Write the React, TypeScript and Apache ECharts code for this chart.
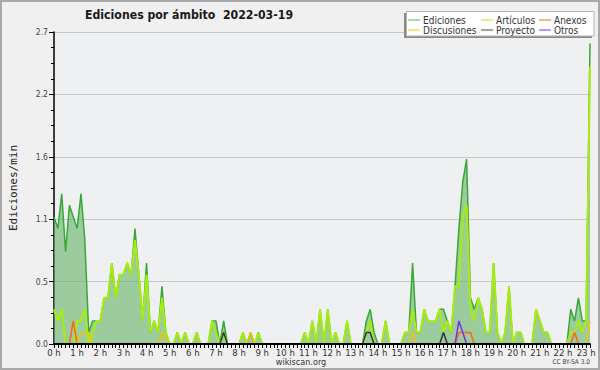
import { useEffect, useRef } from 'react';
import * as echarts from 'echarts';

// 10-minute slots from 0:00 to 23:10 (index = slot number)
const HOUR_LABELS = [
  '0 h', '1 h', '2 h', '3 h', '4 h', '5 h', '6 h', '7 h', '8 h', '9 h', '10 h', '11 h',
  '12 h', '13 h', '14 h', '15 h', '16 h', '17 h', '18 h', '19 h', '20 h', '21 h', '22 h', '23 h',
];
const Y_TICKS = [0, 0.54, 1.08, 1.62, 2.16, 2.7];

const EDICIONES = [
  1.1, 1.0, 1.3, 0.8, 1.2, 1.1, 1.0, 1.3, 0.9, 0.1,
  0.2, 0.2, 0.2, 0.4, 0.4, 0.7, 0.4, 0.6, 0.6, 0.7,
  0.6, 1.0, 0.6, 0.2, 0.7, 0.1, 0.2, 0.1, 0.5, 0.1,
  0, 0, 0.1, 0, 0.1, 0, 0, 0.1, 0, 0,
  0, 0.2, 0.2, 0, 0.2, 0, 0, 0, 0, 0.1,
  0, 0.1, 0, 0.1, 0, 0, 0, 0, 0, 0,
  0, 0, 0, 0, 0, 0.1, 0, 0.2, 0, 0.3,
  0, 0.3, 0, 0.1, 0, 0, 0.2, 0, 0, 0,
  0, 0.2, 0.3, 0.1, 0, 0, 0.2, 0, 0, 0,
  0, 0.1, 0.1, 0.7, 0.1, 0.1, 0.3, 0.2, 0.2, 0.2,
  0.3, 0.3, 0.2, 0.1, 0.5, 1.0, 1.4, 1.6, 0.4, 0.3,
  0.4, 0.3, 0.1, 0.1, 0.7, 0.1, 0, 0.1, 0.5, 0,
  0.1, 0.1, 0, 0, 0, 0.3, 0.2, 0.1, 0.1, 0,
  0, 0, 0, 0, 0.3, 0.2, 0.4, 0.2, 0.2, 2.6,
];
const ARTICULOS = [
  0.3, 0.2, 0.3, 0, 0, 0, 0.2, 0.2, 0.3, 0,
  0.1, 0.2, 0.2, 0.4, 0.4, 0.7, 0.4, 0.6, 0.6, 0.7,
  0.6, 0.9, 0.6, 0.2, 0.6, 0.1, 0.2, 0.1, 0.4, 0.1,
  0, 0, 0.1, 0, 0.1, 0, 0, 0.1, 0, 0,
  0, 0.2, 0.1, 0, 0.1, 0, 0, 0, 0, 0.1,
  0, 0, 0, 0.1, 0, 0, 0, 0, 0, 0,
  0, 0, 0, 0, 0, 0.1, 0, 0.2, 0, 0.3,
  0, 0.3, 0, 0.1, 0, 0, 0.2, 0, 0, 0,
  0, 0.1, 0.2, 0, 0, 0, 0.2, 0, 0, 0,
  0, 0.1, 0.1, 0.3, 0.1, 0.1, 0.3, 0.2, 0.2, 0.2,
  0.3, 0.1, 0.2, 0.1, 0.5, 0.5, 1.1, 1.2, 0.3, 0.2,
  0.4, 0.3, 0.1, 0.1, 0.7, 0.1, 0, 0.1, 0.5, 0,
  0.1, 0.1, 0, 0, 0, 0.3, 0.2, 0.1, 0.1, 0,
  0, 0, 0, 0, 0.1, 0.1, 0.2, 0.1, 0.2, 2.4,
];
const ANEXOS = [
  0, 0, 0, 0, 0, 0.2, 0, 0, 0, 0,
  0, 0, 0, 0, 0, 0, 0, 0, 0, 0,
  0, 0, 0, 0, 0, 0, 0, 0, 0, 0,
  0, 0, 0, 0, 0, 0, 0, 0, 0, 0,
  0, 0, 0, 0, 0, 0, 0, 0, 0, 0,
  0, 0, 0, 0, 0, 0, 0, 0, 0, 0,
  0, 0, 0, 0, 0, 0, 0, 0, 0, 0,
  0, 0, 0, 0, 0, 0, 0, 0, 0, 0,
  0, 0, 0, 0, 0, 0, 0, 0, 0, 0,
  0, 0, 0, 0, 0, 0, 0, 0, 0, 0,
  0, 0, 0, 0, 0, 0.1, 0.1, 0.1, 0.1, 0,
  0, 0, 0, 0, 0, 0, 0, 0, 0, 0,
  0, 0, 0, 0, 0, 0, 0, 0, 0, 0,
  0, 0, 0, 0, 0, 0.1, 0, 0, 0, 0,
];
const DISCUSIONES = [
  0, 0, 0, 0, 0, 0, 0, 0.1, 0.1, 0.1,
  0, 0, 0, 0, 0, 0, 0, 0, 0, 0,
  0, 0, 0, 0, 0, 0, 0, 0, 0.1, 0,
  0, 0, 0, 0, 0, 0, 0, 0, 0, 0,
  0, 0, 0, 0, 0, 0, 0, 0, 0, 0,
  0, 0.1, 0, 0, 0, 0, 0, 0, 0, 0,
  0, 0, 0, 0, 0, 0, 0, 0, 0, 0,
  0, 0, 0, 0, 0, 0, 0, 0, 0, 0,
  0, 0, 0, 0, 0, 0, 0, 0, 0, 0,
  0, 0, 0, 0.1, 0, 0, 0, 0, 0, 0,
  0, 0, 0, 0, 0, 0, 0, 0, 0, 0,
  0, 0, 0, 0, 0, 0, 0, 0, 0, 0,
  0, 0, 0, 0, 0, 0, 0, 0, 0, 0,
  0, 0, 0, 0, 0, 0, 0, 0, 0, 0.2,
];
const PROYECTO = [
  0, 0, 0, 0, 0, 0, 0, 0, 0, 0,
  0, 0, 0, 0, 0, 0, 0, 0, 0, 0,
  0, 0, 0, 0, 0, 0, 0, 0, 0, 0,
  0, 0, 0, 0, 0, 0, 0, 0, 0, 0,
  0, 0, 0, 0, 0.1, 0, 0, 0, 0, 0,
  0, 0, 0, 0, 0, 0, 0, 0, 0, 0,
  0, 0, 0, 0, 0, 0, 0, 0, 0, 0,
  0, 0, 0, 0, 0, 0, 0, 0, 0, 0,
  0, 0.1, 0.1, 0, 0, 0, 0, 0, 0, 0,
  0, 0, 0, 0, 0, 0, 0, 0, 0, 0,
  0, 0.1, 0, 0, 0, 0, 0, 0, 0, 0,
  0, 0, 0, 0, 0, 0, 0, 0, 0, 0,
  0, 0, 0, 0, 0, 0, 0, 0, 0, 0,
  0, 0, 0, 0, 0, 0, 0, 0, 0, 0,
];
const OTROS = [
  0, 0, 0, 0, 0, 0, 0, 0, 0, 0,
  0, 0, 0, 0, 0, 0, 0, 0, 0, 0,
  0, 0, 0, 0, 0, 0, 0, 0, 0, 0,
  0, 0, 0, 0, 0, 0, 0, 0, 0, 0,
  0, 0, 0, 0, 0, 0, 0, 0, 0, 0,
  0, 0, 0, 0, 0, 0, 0, 0, 0, 0,
  0, 0, 0, 0, 0, 0, 0, 0, 0, 0,
  0, 0, 0, 0, 0, 0, 0, 0, 0, 0,
  0, 0, 0, 0, 0, 0, 0, 0, 0, 0,
  0, 0, 0, 0, 0, 0, 0, 0, 0, 0,
  0, 0, 0, 0, 0, 0.2, 0.1, 0, 0, 0,
  0, 0, 0, 0, 0, 0, 0, 0, 0, 0,
  0, 0, 0, 0, 0, 0, 0, 0, 0, 0,
  0, 0, 0, 0, 0, 0, 0, 0, 0, 0,
];

const LEGEND = [
  { name: 'Ediciones', color: '#6cc86c', col: 0, row: 0 },
  { name: 'Artículos', color: '#c4ee44', col: 1, row: 0 },
  { name: 'Anexos', color: '#ff8040', col: 2, row: 0 },
  { name: 'Discusiones', color: '#ffd030', col: 0, row: 1 },
  { name: 'Proyecto', color: '#666666', col: 1, row: 1 },
  { name: 'Otros', color: '#9a50f0', col: 2, row: 1 },
];

const COND = '"DejaVu Sans Condensed", "DejaVu Sans", sans-serif';

export default function App() {
  const ref = useRef<HTMLDivElement>(null);
  useEffect(() => {
    const chart = echarts.init(ref.current!, null, { renderer: 'svg' });
    const pts = (arr: number[]) => arr.map((v, i) => [i, v]);
    const lineSeries = (name: string, data: number[], color: string, width: number, extra: any = {}) => ({
      name,
      type: 'line',
      data: pts(data),
      showSymbol: false,
      symbol: 'none',
      lineStyle: { color, width },
      itemStyle: { color },
      z: 2,
      ...extra,
    });
    const colX = [408, 481, 539];
    const rowY = [20, 30];
    const legendEls: any[] = [
      { type: 'rect', shape: { x: 404, y: 13, width: 188, height: 25 }, style: { fill: '#8a8a8a' }, z: 100 },
      { type: 'rect', shape: { x: 406.5, y: 11.5, width: 187.5, height: 24.5 }, style: { fill: '#ffffff', stroke: '#b4b4b4', lineWidth: 1 }, z: 101 },
    ];
    LEGEND.forEach((it) => {
      const x = colX[it.col];
      const y = rowY[it.row];
      legendEls.push({
        type: 'line', shape: { x1: x, y1: y, x2: x + 12, y2: y },
        style: { stroke: it.color, lineWidth: 1.2 }, z: 102,
      });
      legendEls.push({
        type: 'text', x: x + 15, y,
        style: { text: it.name, fill: '#333', font: '10px ' + COND, textVerticalAlign: 'middle', verticalAlign: 'middle', textAlign: 'left' },
        z: 102,
      });
    });

    chart.setOption({
      animation: false,
      backgroundColor: '#f0f0f0',
      title: {
        text: 'Ediciones por ámbito  2022-03-19',
        left: 85,
        top: 9,
        padding: 0,
        textStyle: { fontFamily: COND, fontWeight: 'bold', fontSize: 12.2, color: '#1a1a1a' },
      },
      grid: {
        left: 45, right: 10, top: 32, bottom: 26,
        show: true, backgroundColor: '#eff0f2', borderWidth: 0,
      },
      xAxis: {
        type: 'value',
        min: 0,
        max: EDICIONES.length - 1,
        interval: 6,
        z: 5,
        axisLine: { show: true, lineStyle: { color: '#000', width: 2 } },
        axisTick: { show: true, length: 4, lineStyle: { color: '#000', width: 1 } },
        minorTick: { show: true, splitNumber: 6, length: 4, lineStyle: { color: '#000', width: 1 } },
        splitLine: { show: false },
        axisLabel: {
          margin: 3,
          fontSize: 9.5,
          fontFamily: COND,
          color: '#333',
          formatter: (v: number) => (v % 6 === 0 ? HOUR_LABELS[v / 6] : ''),
        },
      },
      yAxis: {
        type: 'value',
        min: Y_TICKS[0],
        max: Y_TICKS[Y_TICKS.length - 1],
        interval: Y_TICKS[1],
        z: 1,
        name: 'Ediciones/min',
        nameLocation: 'middle',
        nameGap: 35,
        nameTextStyle: { fontFamily: '"DejaVu Sans Mono", monospace', fontSize: 11, color: '#222' },
        axisLine: { show: true, lineStyle: { color: '#000', width: 1.5 } },
        axisTick: { show: true, length: 5, lineStyle: { color: '#000' } },
        minorTick: { show: true, splitNumber: 4, length: 3, lineStyle: { color: '#000' } },
        splitLine: { show: true, lineStyle: { color: '#c8c8c8', width: 1 } },
        axisLabel: {
          margin: 6,
          fontSize: 8.5,
          fontFamily: COND,
          color: '#444',
          formatter: (v: number) => v.toFixed(1),
        },
      },
      series: [
        lineSeries('Ediciones', EDICIONES, '#38a838', 1.5, {
          areaStyle: { color: 'rgb(100,178,100)', opacity: 0.6 },
        }),
        lineSeries('Artículos', ARTICULOS, '#a8ec10', 2),
        lineSeries('Anexos', ANEXOS, '#ff6418', 1.5),
        lineSeries('Discusiones', DISCUSIONES, '#f4c400', 1.5),
        lineSeries('Proyecto', PROYECTO, '#333333', 1.5),
        lineSeries('Otros', OTROS, '#7d2cf0', 1.5),
      ],
      graphic: [
        {
          type: 'rect', shape: { x: 1, y: 1, width: 598, height: 368 },
          style: { fill: 'none', stroke: '#a8a8a8', lineWidth: 2 }, z: 90, silent: true,
        },
        {
          type: 'text', x: 301, y: 362,
          style: { text: 'wikiscan.org', fill: '#333', font: '9px ' + COND, textAlign: 'center', textVerticalAlign: 'middle', verticalAlign: 'middle' },
          z: 90,
        },
        {
          type: 'text', x: 590, y: 362,
          style: { text: 'CC BY-SA 3.0', fill: '#444', font: '6.5px ' + COND, textAlign: 'right', textVerticalAlign: 'middle', verticalAlign: 'middle' },
          z: 90,
        },
        ...legendEls,
      ],
    });
    return () => chart.dispose();
  }, []);
  return <div ref={ref} style={{ position: 'fixed', left: 0, top: 0, width: 600, height: 370 }} />;
}
